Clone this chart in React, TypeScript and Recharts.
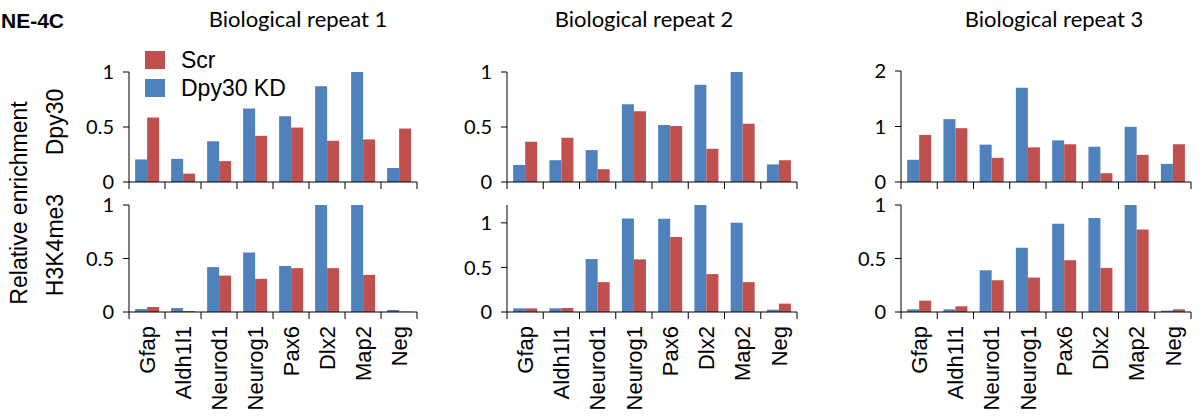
import React from 'react';
import { BarChart, Bar, XAxis, YAxis } from 'recharts';

// gene targets on the x axis
const genes = ['Gfap', 'Aldh1l1', 'Neurod1', 'Neurog1', 'Pax6', 'Dlx2', 'Map2', 'Neg'];

const seriesNames = ['Scr', 'Dpy30 KD'];
const seriesColors = ['#C0504D', '#4F81BD'];

const repeatTitles = ['Biological repeat 1', 'Biological repeat 2', 'Biological repeat 3'];
const rowLabels = ['Dpy30', 'H3K4me3'];

// repeat 1
const r1DpyKD = [0.205, 0.21, 0.37, 0.668, 0.598, 0.87, 1.0, 0.127];
const r1DpyScr = [0.586, 0.076, 0.19, 0.42, 0.495, 0.375, 0.387, 0.486];
const r1H3KD = [0.028, 0.037, 0.42, 0.556, 0.43, 1.0, 1.0, 0.019];
const r1H3Scr = [0.047, 0.008, 0.34, 0.31, 0.41, 0.41, 0.347, 0.003];
// repeat 2
const r2DpyKD = [0.155, 0.198, 0.29, 0.707, 0.518, 0.884, 1.0, 0.16];
const r2DpyScr = [0.366, 0.402, 0.116, 0.643, 0.509, 0.302, 0.53, 0.198];
const r2H3KD = [0.041, 0.041, 0.594, 1.049, 1.045, 1.2, 1.0, 0.026];
const r2H3Scr = [0.041, 0.045, 0.335, 0.59, 0.842, 0.425, 0.335, 0.094];
// repeat 3
const r3DpyKD = [0.4, 1.133, 0.673, 1.697, 0.75, 0.636, 0.994, 0.327];
const r3DpyScr = [0.848, 0.97, 0.436, 0.624, 0.68, 0.158, 0.49, 0.68];
const r3H3KD = [0.025, 0.025, 0.39, 0.6, 0.825, 0.878, 1.0, 0.0125];
const r3H3Scr = [0.106, 0.053, 0.297, 0.322, 0.484, 0.412, 0.772, 0.025];

const ticksOne = [0, 0.5, 1];
const ticksTwo = [0, 1, 2];

const arial = '"Liberation Sans", Arial, sans-serif';
const tickFont = 'Lato, "Open Sans", sans-serif';

const Y_W = 50;
const TOP_PAD = 16;

const Panel = ({ kd, scr, x, top, plotW, plotH, domain, ticks, labels }: any) => {
  const data = genes.map((g, i) => ({ gene: g, kd: kd[i], scr: scr[i] }));
  const band = plotW / genes.length;
  const axisH = labels ? 100 : 24;

  const GeneTick = (props: any) => {
    const { x: tx, y: ty, index } = props;
    const left = tx - band / 2;
    return (
      <g>
        <line x1={left} y1={ty} x2={left} y2={ty + 7} stroke="#000" />
        {index === genes.length - 1 && (
          <line x1={tx + band / 2} y1={ty} x2={tx + band / 2} y2={ty + 7} stroke="#000" />
        )}
        {labels && (
          <text
            x={tx}
            y={ty + 14}
            transform={`rotate(-90, ${tx}, ${ty + 14})`}
            textAnchor="end"
            dy="0.35em"
            fontFamily={arial}
            fontSize={22}
            fill="#000"
          >
            {props.payload.value}
          </text>
        )}
      </g>
    );
  };

  return (
    <div style={{ position: 'absolute', left: x - Y_W, top: top - TOP_PAD }}>
      <BarChart
        width={Y_W + plotW + 6}
        height={TOP_PAD + plotH + axisH}
        data={data}
        margin={{ top: TOP_PAD, right: 6, bottom: 0, left: 0 }}
        barCategoryGap="17%"
        barGap={0}
      >
        <XAxis
          dataKey="gene"
          interval={0}
          height={axisH}
          tickLine={false}
          tickSize={0}
          tickMargin={0}
          axisLine={{ stroke: '#000' }}
          tick={<GeneTick />}
        />
        <YAxis
          width={Y_W}
          domain={domain}
          ticks={ticks}
          interval={0}
          allowDataOverflow
          tickSize={6}
          tickMargin={9}
          axisLine={{ stroke: '#000' }}
          tickLine={{ stroke: '#000' }}
          tick={{ fill: '#000', fontSize: 20, fontFamily: tickFont }}
        />
        <Bar dataKey="kd" fill={seriesColors[1]} isAnimationActive={false} />
        <Bar dataKey="scr" fill={seriesColors[0]} isAnimationActive={false} />
      </BarChart>
    </div>
  );
};

export default function App() {
  return (
    <div style={{ position: 'absolute', left: 0, top: 0, width: 1204, height: 416, background: '#fff', overflow: 'hidden' }}>
      <Panel kd={r1DpyKD} scr={r1DpyScr} x={129} top={72} plotW={288} plotH={110} domain={[0, 1]} ticks={ticksOne} />
      <Panel kd={r2DpyKD} scr={r2DpyScr} x={507} top={72} plotW={290} plotH={110} domain={[0, 1]} ticks={ticksOne} />
      <Panel kd={r3DpyKD} scr={r3DpyScr} x={901} top={71} plotW={290} plotH={111} domain={[0, 2]} ticks={ticksTwo} />
      <Panel kd={r1H3KD} scr={r1H3Scr} x={129} top={205} plotW={288} plotH={107} domain={[0, 1]} ticks={ticksOne} labels />
      <Panel kd={r2H3KD} scr={r2H3Scr} x={507} top={205} plotW={290} plotH={107} domain={[0, 1.2]} ticks={ticksOne} labels />
      <Panel kd={r3H3KD} scr={r3H3Scr} x={901} top={205} plotW={290} plotH={107} domain={[0, 1]} ticks={ticksOne} labels />

      <svg width={1204} height={416} style={{ position: 'absolute', left: 0, top: 0, pointerEvents: 'none' }}>
        <text x={64} y={28} textAnchor="end" fontFamily={arial} fontWeight="bold" fontSize={21} fill="#000">
          NE-4C
        </text>
        {repeatTitles.map((t, i) => (
          <text key={t} x={[298, 644, 1054][i]} y={27} textAnchor="middle" fontFamily={tickFont} fontSize={22} fill="#000">
            {t}
          </text>
        ))}
        <text x={19} y={203} transform="rotate(-90, 19, 203)" textAnchor="middle" dy="0.35em" fontFamily={arial} fontSize={23} fill="#000">
          Relative enrichment
        </text>
        <text x={55} y={122} transform="rotate(-90, 55, 122)" textAnchor="middle" dy="0.35em" fontFamily={arial} fontSize={23} fill="#000">
          {rowLabels[0]}
        </text>
        <text x={55} y={245} transform="rotate(-90, 55, 245)" textAnchor="middle" dy="0.35em" fontFamily={arial} fontSize={23} fill="#000">
          {rowLabels[1]}
        </text>
        {seriesNames.map((n, i) => (
          <g key={n}>
            <rect x={145} y={[51, 79][i]} width={20} height={18} fill={seriesColors[i]} />
            <text x={181} y={[60, 88][i]} dy="0.35em" fontFamily={arial} fontSize={23} fill="#000">
              {n}
            </text>
          </g>
        ))}
      </svg>
    </div>
  );
}
